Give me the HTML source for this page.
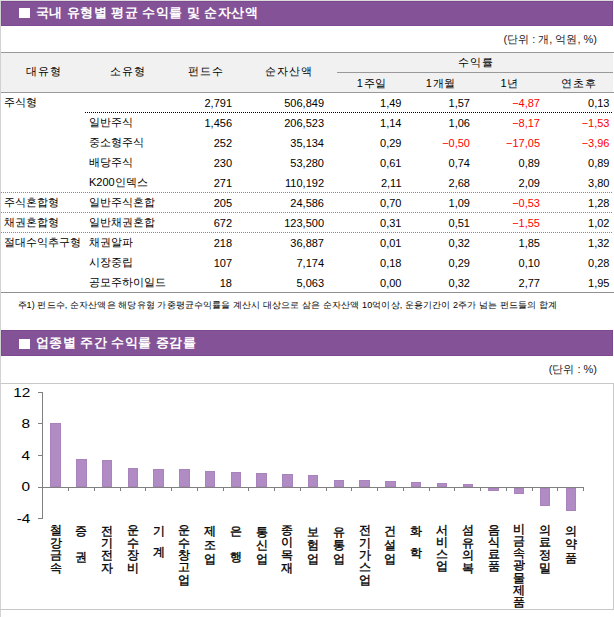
<!DOCTYPE html><html><head><meta charset="utf-8"><style>
*{margin:0;padding:0;box-sizing:border-box}
html,body{width:614px;height:617px;overflow:hidden;background:#fff}
body{position:relative;font-family:"Liberation Sans", sans-serif;color:#000;font-size:11px}
.a{position:absolute;white-space:nowrap}
.bar{position:absolute;left:1px;width:612px;background:#845296;border:1px solid #7d4a92}
.sq{position:absolute;left:19px;width:11px;height:10px;background:#fff}
.tt{position:absolute;left:36px;color:#fff;font-weight:bold;font-size:13px;line-height:16px;letter-spacing:0.45px;white-space:nowrap}
.h{position:absolute;height:1px}
.c{text-align:center}
.t{line-height:20px;height:20px}
.neg{color:#f00}
.xl{width:12px;text-align:center;font-size:12px;line-height:12px;-webkit-text-stroke:0.35px #000}
</style></head><body>
<div class="a" style="left:0;top:0;width:1px;height:617px;background:#d2d2d2"></div>
<div class="a" style="left:0;top:0;width:614px;height:1px;background:#dcdcdc"></div>
<div class="bar" style="top:1px;height:25px"></div>
<div class="sq" style="top:8px"></div>
<div class="tt" style="top:5px">국내 유형별 평균 수익률 및 순자산액</div>
<div class="a" style="right:17px;top:32px;line-height:14px;color:#222">(단위 : 개, 억원, %)</div>
<div class="a" style="left:1px;top:53px;width:612px;height:39px;background:#f1f1f1"></div>
<div class="h" style="left:1px;top:52px;width:613px;background:#999"></div>
<div class="h" style="left:337px;top:72px;width:276px;background:#999"></div>
<div class="h" style="left:1px;top:92px;width:613px;background:#999"></div>
<div class="a c t" style="left:1px;width:84px;top:61px;letter-spacing:1px;padding-left:1px">대유형</div>
<div class="a c t" style="left:85px;width:85px;top:61px;letter-spacing:1px;padding-left:1px">소유형</div>
<div class="a c t" style="left:170px;width:70px;top:61px;letter-spacing:1px;padding-left:1px">펀드수</div>
<div class="a c t" style="left:240px;width:97px;top:61px;letter-spacing:1px;padding-left:1px">순자산액</div>
<div class="a c t" style="left:337px;width:276px;top:52px;letter-spacing:1px;padding-left:1px">수익률</div>
<div class="a c t" style="left:337px;width:69px;top:73px;letter-spacing:0.8px;padding-left:0.8px">1주일</div>
<div class="a c t" style="left:406px;width:69px;top:73px;letter-spacing:0.8px;padding-left:0.8px">1개월</div>
<div class="a c t" style="left:475px;width:69px;top:73px;letter-spacing:0.8px;padding-left:0.8px">1년</div>
<div class="a c t" style="left:544px;width:69px;top:73px;letter-spacing:0.8px;padding-left:0.8px">연초후</div>
<div class="a t" style="left:4px;top:92px">주식형</div>
<div class="a t" style="right:382px;top:93px">2,791</div>
<div class="a t" style="right:290px;top:93px">506,849</div>
<div class="a t" style="right:212.5px;top:93px">1,49</div>
<div class="a t" style="right:144px;top:93px">1,57</div>
<div class="a t neg" style="right:74px;top:93px">&minus;4,87</div>
<div class="a t" style="right:4.5px;top:93px">0,13</div>
<div class="a t" style="left:89px;top:112px">일반주식</div>
<div class="a t" style="right:382px;top:113px">1,456</div>
<div class="a t" style="right:290px;top:113px">206,523</div>
<div class="a t" style="right:212.5px;top:113px">1,14</div>
<div class="a t" style="right:144px;top:113px">1,06</div>
<div class="a t neg" style="right:74px;top:113px">&minus;8,17</div>
<div class="a t neg" style="right:4.5px;top:113px">&minus;1,53</div>
<div class="a t" style="left:89px;top:132px">중소형주식</div>
<div class="a t" style="right:382px;top:133px">252</div>
<div class="a t" style="right:290px;top:133px">35,134</div>
<div class="a t" style="right:212.5px;top:133px">0,29</div>
<div class="a t neg" style="right:144px;top:133px">&minus;0,50</div>
<div class="a t neg" style="right:74px;top:133px">&minus;17,05</div>
<div class="a t neg" style="right:4.5px;top:133px">&minus;3,96</div>
<div class="a t" style="left:89px;top:152px">배당주식</div>
<div class="a t" style="right:382px;top:153px">230</div>
<div class="a t" style="right:290px;top:153px">53,280</div>
<div class="a t" style="right:212.5px;top:153px">0,61</div>
<div class="a t" style="right:144px;top:153px">0,74</div>
<div class="a t" style="right:74px;top:153px">0,89</div>
<div class="a t" style="right:4.5px;top:153px">0,89</div>
<div class="a t" style="left:89px;top:172px">K200인덱스</div>
<div class="a t" style="right:382px;top:173px">271</div>
<div class="a t" style="right:290px;top:173px">110,192</div>
<div class="a t" style="right:212.5px;top:173px">2,11</div>
<div class="a t" style="right:144px;top:173px">2,68</div>
<div class="a t" style="right:74px;top:173px">2,09</div>
<div class="a t" style="right:4.5px;top:173px">3,80</div>
<div class="a t" style="left:4px;top:192px">주식혼합형</div>
<div class="a t" style="left:89px;top:192px">일반주식혼합</div>
<div class="a t" style="right:382px;top:193px">205</div>
<div class="a t" style="right:290px;top:193px">24,586</div>
<div class="a t" style="right:212.5px;top:193px">0,70</div>
<div class="a t" style="right:144px;top:193px">1,09</div>
<div class="a t neg" style="right:74px;top:193px">&minus;0,53</div>
<div class="a t" style="right:4.5px;top:193px">1,28</div>
<div class="a t" style="left:4px;top:212px">채권혼합형</div>
<div class="a t" style="left:89px;top:212px">일반채권혼합</div>
<div class="a t" style="right:382px;top:213px">672</div>
<div class="a t" style="right:290px;top:213px">123,500</div>
<div class="a t" style="right:212.5px;top:213px">0,31</div>
<div class="a t" style="right:144px;top:213px">0,51</div>
<div class="a t neg" style="right:74px;top:213px">&minus;1,55</div>
<div class="a t" style="right:4.5px;top:213px">1,02</div>
<div class="a t" style="left:4px;top:232px">절대수익추구형</div>
<div class="a t" style="left:89px;top:232px">채권알파</div>
<div class="a t" style="right:382px;top:233px">218</div>
<div class="a t" style="right:290px;top:233px">36,887</div>
<div class="a t" style="right:212.5px;top:233px">0,01</div>
<div class="a t" style="right:144px;top:233px">0,32</div>
<div class="a t" style="right:74px;top:233px">1,85</div>
<div class="a t" style="right:4.5px;top:233px">1,32</div>
<div class="a t" style="left:89px;top:252px">시장중립</div>
<div class="a t" style="right:382px;top:253px">107</div>
<div class="a t" style="right:290px;top:253px">7,174</div>
<div class="a t" style="right:212.5px;top:253px">0,18</div>
<div class="a t" style="right:144px;top:253px">0,29</div>
<div class="a t" style="right:74px;top:253px">0,10</div>
<div class="a t" style="right:4.5px;top:253px">0,28</div>
<div class="a t" style="left:89px;top:272px">공모주하이일드</div>
<div class="a t" style="right:382px;top:273px">18</div>
<div class="a t" style="right:290px;top:273px">5,063</div>
<div class="a t" style="right:212.5px;top:273px">0,00</div>
<div class="a t" style="right:144px;top:273px">0,32</div>
<div class="a t" style="right:74px;top:273px">2,77</div>
<div class="a t" style="right:4.5px;top:273px">1,95</div>
<div class="h" style="left:85px;top:112px;width:528px;background:repeating-linear-gradient(90deg,#000 0 1px,transparent 1px 2px)"></div>
<div class="h" style="left:1px;top:192px;width:612px;background:repeating-linear-gradient(90deg,#8a8a8a 0 1px,transparent 1px 2px)"></div>
<div class="h" style="left:1px;top:212px;width:612px;background:repeating-linear-gradient(90deg,#8a8a8a 0 1px,transparent 1px 2px)"></div>
<div class="h" style="left:1px;top:232px;width:612px;background:repeating-linear-gradient(90deg,#8a8a8a 0 1px,transparent 1px 2px)"></div>
<div class="h" style="left:1px;top:292px;width:613px;background:#909090"></div>
<div class="a" style="left:17.5px;top:299px;font-size:9px;line-height:12px;letter-spacing:0.12px">주1) 펀드수, 순자산액은 해당유형 가중평균수익률을 계산시 대상으로 삼은 순자산액 10억이상, 운용기간이 2주가 넘는 펀드들의 합계</div>
<div class="bar" style="top:330px;height:26px"></div>
<div class="sq" style="top:339px"></div>
<div class="tt" style="top:335px">업종별 주간 수익률 증감률</div>
<div class="a" style="right:17px;top:362px;line-height:14px;color:#222">(단위 : %)</div>
<div class="a" style="left:0;top:383px;width:614px;height:227px;border:1px solid #c8c8c8;border-left-color:#d2d2d2"></div>
<svg class="a" style="left:0;top:0" width="614" height="617" viewBox="0 0 614 617"><rect x="50.5" y="423.5" width="10" height="63" fill="#b18cc4" stroke="#a983bc" stroke-width="1"/><rect x="76.5" y="459.5" width="10" height="27" fill="#b18cc4" stroke="#a983bc" stroke-width="1"/><rect x="102.5" y="460.5" width="9" height="26" fill="#b18cc4" stroke="#a983bc" stroke-width="1"/><rect x="128.5" y="468.5" width="9" height="18" fill="#b18cc4" stroke="#a983bc" stroke-width="1"/><rect x="153.5" y="469.5" width="10" height="17" fill="#b18cc4" stroke="#a983bc" stroke-width="1"/><rect x="179.5" y="469.5" width="10" height="17" fill="#b18cc4" stroke="#a983bc" stroke-width="1"/><rect x="205.5" y="471.5" width="9" height="15" fill="#b18cc4" stroke="#a983bc" stroke-width="1"/><rect x="231.5" y="472.5" width="9" height="14" fill="#b18cc4" stroke="#a983bc" stroke-width="1"/><rect x="256.5" y="473.5" width="10" height="13" fill="#b18cc4" stroke="#a983bc" stroke-width="1"/><rect x="282.5" y="474.5" width="10" height="12" fill="#b18cc4" stroke="#a983bc" stroke-width="1"/><rect x="308.5" y="475.5" width="9" height="11" fill="#b18cc4" stroke="#a983bc" stroke-width="1"/><rect x="334.5" y="480.5" width="9" height="6" fill="#b18cc4" stroke="#a983bc" stroke-width="1"/><rect x="359.5" y="480.5" width="10" height="6" fill="#b18cc4" stroke="#a983bc" stroke-width="1"/><rect x="385.5" y="481.5" width="10" height="5" fill="#b18cc4" stroke="#a983bc" stroke-width="1"/><rect x="411.5" y="482.5" width="9" height="4" fill="#b18cc4" stroke="#a983bc" stroke-width="1"/><rect x="437.5" y="483.5" width="9" height="3" fill="#b18cc4" stroke="#a983bc" stroke-width="1"/><rect x="463.5" y="484.5" width="9" height="2" fill="#b18cc4" stroke="#a983bc" stroke-width="1"/><rect x="488.5" y="488.5" width="10" height="2" fill="#b18cc4" stroke="#a983bc" stroke-width="1"/><rect x="514.5" y="488.5" width="9" height="5" fill="#b18cc4" stroke="#a983bc" stroke-width="1"/><rect x="540.5" y="488.5" width="9" height="17" fill="#b18cc4" stroke="#a983bc" stroke-width="1"/><rect x="566.5" y="488.5" width="9" height="22" fill="#b18cc4" stroke="#a983bc" stroke-width="1"/><line x1="42.5" y1="392" x2="42.5" y2="519" stroke="#808080" stroke-width="1"/><line x1="38" y1="392.5" x2="43" y2="392.5" stroke="#808080" stroke-width="1"/><line x1="38" y1="423.5" x2="43" y2="423.5" stroke="#808080" stroke-width="1"/><line x1="38" y1="455.5" x2="43" y2="455.5" stroke="#808080" stroke-width="1"/><line x1="38" y1="487.5" x2="43" y2="487.5" stroke="#808080" stroke-width="1"/><line x1="38" y1="518.5" x2="43" y2="518.5" stroke="#808080" stroke-width="1"/><line x1="42" y1="487.5" x2="584" y2="487.5" stroke="#808080" stroke-width="1"/><line x1="68.5" y1="487" x2="68.5" y2="491" stroke="#808080" stroke-width="1"/><line x1="94.5" y1="487" x2="94.5" y2="491" stroke="#808080" stroke-width="1"/><line x1="120.5" y1="487" x2="120.5" y2="491" stroke="#808080" stroke-width="1"/><line x1="145.5" y1="487" x2="145.5" y2="491" stroke="#808080" stroke-width="1"/><line x1="171.5" y1="487" x2="171.5" y2="491" stroke="#808080" stroke-width="1"/><line x1="197.5" y1="487" x2="197.5" y2="491" stroke="#808080" stroke-width="1"/><line x1="223.5" y1="487" x2="223.5" y2="491" stroke="#808080" stroke-width="1"/><line x1="248.5" y1="487" x2="248.5" y2="491" stroke="#808080" stroke-width="1"/><line x1="274.5" y1="487" x2="274.5" y2="491" stroke="#808080" stroke-width="1"/><line x1="300.5" y1="487" x2="300.5" y2="491" stroke="#808080" stroke-width="1"/><line x1="326.5" y1="487" x2="326.5" y2="491" stroke="#808080" stroke-width="1"/><line x1="351.5" y1="487" x2="351.5" y2="491" stroke="#808080" stroke-width="1"/><line x1="377.5" y1="487" x2="377.5" y2="491" stroke="#808080" stroke-width="1"/><line x1="403.5" y1="487" x2="403.5" y2="491" stroke="#808080" stroke-width="1"/><line x1="429.5" y1="487" x2="429.5" y2="491" stroke="#808080" stroke-width="1"/><line x1="454.5" y1="487" x2="454.5" y2="491" stroke="#808080" stroke-width="1"/><line x1="480.5" y1="487" x2="480.5" y2="491" stroke="#808080" stroke-width="1"/><line x1="506.5" y1="487" x2="506.5" y2="491" stroke="#808080" stroke-width="1"/><line x1="532.5" y1="487" x2="532.5" y2="491" stroke="#808080" stroke-width="1"/><line x1="557.5" y1="487" x2="557.5" y2="491" stroke="#808080" stroke-width="1"/><line x1="583.5" y1="487" x2="583.5" y2="491" stroke="#808080" stroke-width="1"/></svg>
<div class="a" style="right:583.7px;top:383.7px;font-size:12.8px;line-height:18px;transform:scaleX(1.2);transform-origin:100% 50%">12</div>
<div class="a" style="right:583.7px;top:415.2px;font-size:12.8px;line-height:18px;transform:scaleX(1.2);transform-origin:100% 50%">8</div>
<div class="a" style="right:583.7px;top:446.7px;font-size:12.8px;line-height:18px;transform:scaleX(1.2);transform-origin:100% 50%">4</div>
<div class="a" style="right:583.7px;top:478.2px;font-size:12.8px;line-height:18px;transform:scaleX(1.2);transform-origin:100% 50%">0</div>
<div class="a" style="right:583.7px;top:509.7px;font-size:12.8px;line-height:18px;transform:scaleX(1.2);transform-origin:100% 50%">-4</div>
<div class="a xl" style="left:49.6px;top:524.2px">철</div>
<div class="a xl" style="left:49.6px;top:536.7px">강</div>
<div class="a xl" style="left:49.6px;top:549.2px">금</div>
<div class="a xl" style="left:49.6px;top:561.7px">속</div>
<div class="a xl" style="left:75.4px;top:525.4px">증</div>
<div class="a xl" style="left:75.4px;top:551.4px">권</div>
<div class="a xl" style="left:101.1px;top:524.8px">전</div>
<div class="a xl" style="left:101.1px;top:537.1px">기</div>
<div class="a xl" style="left:101.1px;top:549.4px">전</div>
<div class="a xl" style="left:101.1px;top:561.7px">자</div>
<div class="a xl" style="left:126.9px;top:524.2px">운</div>
<div class="a xl" style="left:126.9px;top:536.7px">수</div>
<div class="a xl" style="left:126.9px;top:549.2px">장</div>
<div class="a xl" style="left:126.9px;top:561.7px">비</div>
<div class="a xl" style="left:152.6px;top:524.7px">기</div>
<div class="a xl" style="left:152.6px;top:545.9px">계</div>
<div class="a xl" style="left:178.4px;top:524.2px">운</div>
<div class="a xl" style="left:178.4px;top:536.5px">수</div>
<div class="a xl" style="left:178.4px;top:548.9px">창</div>
<div class="a xl" style="left:178.4px;top:561.2px">고</div>
<div class="a xl" style="left:178.4px;top:573.5px">업</div>
<div class="a xl" style="left:204.2px;top:524.8px">제</div>
<div class="a xl" style="left:204.2px;top:539.0px">조</div>
<div class="a xl" style="left:204.2px;top:553.3px">업</div>
<div class="a xl" style="left:229.9px;top:525.4px">은</div>
<div class="a xl" style="left:229.9px;top:550.8px">행</div>
<div class="a xl" style="left:255.7px;top:525.5px">통</div>
<div class="a xl" style="left:255.7px;top:539.4px">신</div>
<div class="a xl" style="left:255.7px;top:553.3px">업</div>
<div class="a xl" style="left:281.4px;top:523.5px">종</div>
<div class="a xl" style="left:281.4px;top:536.2px">이</div>
<div class="a xl" style="left:281.4px;top:549.0px">목</div>
<div class="a xl" style="left:281.4px;top:561.7px">재</div>
<div class="a xl" style="left:307.2px;top:525.5px">보</div>
<div class="a xl" style="left:307.2px;top:539.4px">험</div>
<div class="a xl" style="left:307.2px;top:553.3px">업</div>
<div class="a xl" style="left:332.9px;top:525.5px">유</div>
<div class="a xl" style="left:332.9px;top:539.4px">통</div>
<div class="a xl" style="left:332.9px;top:553.3px">업</div>
<div class="a xl" style="left:358.7px;top:524.2px">전</div>
<div class="a xl" style="left:358.7px;top:536.5px">기</div>
<div class="a xl" style="left:358.7px;top:548.9px">가</div>
<div class="a xl" style="left:358.7px;top:561.2px">스</div>
<div class="a xl" style="left:358.7px;top:573.5px">업</div>
<div class="a xl" style="left:384.4px;top:524.8px">건</div>
<div class="a xl" style="left:384.4px;top:538.7px">설</div>
<div class="a xl" style="left:384.4px;top:552.6px">업</div>
<div class="a xl" style="left:410.2px;top:525.0px">화</div>
<div class="a xl" style="left:410.2px;top:546.5px">학</div>
<div class="a xl" style="left:435.9px;top:524.2px">서</div>
<div class="a xl" style="left:435.9px;top:536.1px">비</div>
<div class="a xl" style="left:435.9px;top:547.9px">스</div>
<div class="a xl" style="left:435.9px;top:559.8px">업</div>
<div class="a xl" style="left:461.7px;top:524.2px">섬</div>
<div class="a xl" style="left:461.7px;top:536.7px">유</div>
<div class="a xl" style="left:461.7px;top:549.2px">의</div>
<div class="a xl" style="left:461.7px;top:561.7px">복</div>
<div class="a xl" style="left:487.5px;top:523.8px">음</div>
<div class="a xl" style="left:487.5px;top:535.8px">식</div>
<div class="a xl" style="left:487.5px;top:547.7px">료</div>
<div class="a xl" style="left:487.5px;top:559.7px">품</div>
<div class="a xl" style="left:513.2px;top:522.8px">비</div>
<div class="a xl" style="left:513.2px;top:535.0px">금</div>
<div class="a xl" style="left:513.2px;top:547.2px">속</div>
<div class="a xl" style="left:513.2px;top:559.3px">광</div>
<div class="a xl" style="left:513.2px;top:571.5px">물</div>
<div class="a xl" style="left:513.2px;top:583.7px">제</div>
<div class="a xl" style="left:513.2px;top:595.9px">품</div>
<div class="a xl" style="left:539.0px;top:523.8px">의</div>
<div class="a xl" style="left:539.0px;top:536.4px">료</div>
<div class="a xl" style="left:539.0px;top:549.0px">정</div>
<div class="a xl" style="left:539.0px;top:561.6px">밀</div>
<div class="a xl" style="left:564.7px;top:524.7px">의</div>
<div class="a xl" style="left:564.7px;top:538.3px">약</div>
<div class="a xl" style="left:564.7px;top:551.9px">품</div>
</body></html>
